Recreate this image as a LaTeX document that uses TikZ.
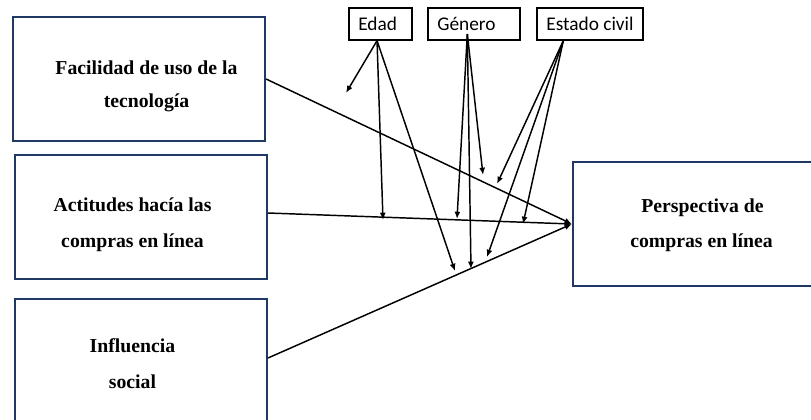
\documentclass[tikz,border=0pt]{standalone}
\usepackage{fontspec}
\setmainfont{Liberation Serif}
\newfontfamily\labelfont{Carlito}
\usetikzlibrary{arrows.meta}
\definecolor{boxnavy}{RGB}{31,56,100}

\begin{document}
\begin{tikzpicture}[x=0.75pt,y=-0.75pt,
    mainbox/.style={rectangle,draw=boxnavy,line width=1.6pt,minimum width=189pt,minimum height=93pt},
    maintext/.style={anchor=base,font=\fontsize{14.8}{18}\selectfont\bfseries},
    modbox/.style={rectangle,draw=black,line width=1pt,minimum height=24pt,font=\labelfont\fontsize{14.5}{17}\selectfont},
    link/.style={line width=1.1pt,-{Latex[length=5.5pt,width=4.5pt]}}]
    \useasboundingbox (0,0) rectangle (811,419);

    % predictor boxes
    \node[mainbox] (facil) at (139,79) {};
    \node[mainbox] (actit) at (141,217) {};
    \node[mainbox,minimum height=98.25pt] (soc) at (141,364.5) {};
    \node[mainbox,minimum width=185.25pt] (persp) at (696.5,224) {};

    \node[maintext] (facilA) at (146.5,74) {Facilidad de uso de la};
    \node[maintext] (facilB) at (146.5,107) {tecnología};
    \node[maintext] (actitA) at (132.5,211) {Actitudes hacía las};
    \node[maintext] (actitB) at (132.5,247) {compras en línea};
    \node[maintext] (socA) at (132.5,352) {Influencia};
    \node[maintext] (socB) at (132.5,388) {social};
    \node[maintext] (perspA) at (702.5,212) {Perspectiva de};
    \node[maintext] (perspB) at (701.5,247) {compras en línea};

    % moderators
    \node[modbox,text width=33.25pt,inner xsep=7pt,align=left] (edad) at (380.5,24) {Edad};
    \node[modbox,text width=55pt,inner xsep=7pt,align=left] (genero) at (474,24) {Género};
    \node[modbox,minimum width=79.5pt] (estado) at (590,24) {Estado civil};

    \coordinate (edadA) at (346,93);
    \coordinate (edadB) at (383,220);
    \coordinate (edadC) at (455,271);
    \coordinate (genA) at (457,219);
    \coordinate (genB) at (471,269);
    \coordinate (genC) at (483,175);
    \coordinate (estA) at (497,184);
    \coordinate (estB) at (487,257);
    \coordinate (estC) at (523,224);

    % main paths
    \draw[link] (facil.east) -- (persp.west);
    \draw[link] ([yshift=3pt]actit.east) -- (persp.west);
    \draw[link] ([yshift=4.9pt]soc.east) -- (persp.west);

    \draw[link] ([xshift=-2.6pt]edad.south) -- (edadA);
    \draw[link] ([xshift=-2.6pt]edad.south) -- (edadB);
    \draw[link] ([xshift=-2.6pt]edad.south) -- (edadC);
    \draw[link] ([xshift=-5pt,yshift=5pt]genero.south) -- (genA);
    \draw[link] ([xshift=-5pt,yshift=5pt]genero.south) -- (genB);
    \draw[link] ([xshift=-5pt,yshift=5pt]genero.south) -- (genC);
    \draw[link] ([xshift=-20pt]estado.south) -- (estA);
    \draw[link] ([xshift=-20pt]estado.south) -- (estB);
    \draw[link] ([xshift=-20pt]estado.south) -- (estC);
\end{tikzpicture}
\end{document}
